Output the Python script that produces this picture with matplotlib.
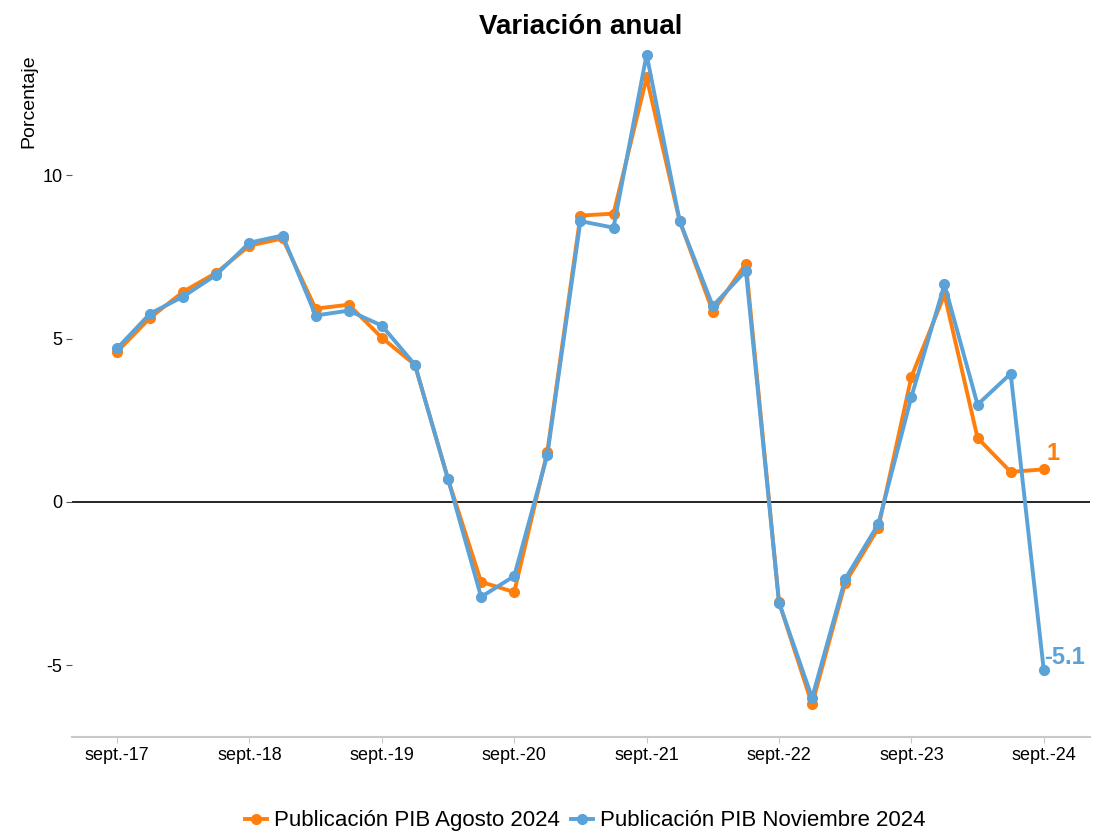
import matplotlib.pyplot as plt
import numpy as np

plt.rcParams['font.family'] = ['Liberation Sans', 'DejaVu Sans']

# trimestres sept.-17 ... sept.-24
trimestres = np.arange(29)
etiquetas = ['sept.-17', 'sept.-18', 'sept.-19', 'sept.-20',
             'sept.-21', 'sept.-22', 'sept.-23', 'sept.-24']
pos_etiquetas = np.arange(0, 29, 4)

pib_agosto = [4.6, 5.64, 6.44, 7.02, 7.85, 8.07, 5.92, 6.04, 5.03, 4.2,
              0.7, -2.45, -2.76, 1.53, 8.77, 8.83, 13.0, 8.6, 5.83, 7.3,
              -3.07, -6.2, -2.48, -0.8, 3.83, 6.35, 1.96, 0.92, 1.0]
pib_noviembre = [4.7, 5.77, 6.29, 6.96, 7.94, 8.16, 5.71, 5.86, 5.4, 4.2,
                 0.7, -2.91, -2.27, 1.44, 8.6, 8.4, 13.7, 8.6, 6.0, 7.08,
                 -3.08, -6.0, -2.36, -0.68, 3.22, 6.66, 2.98, 3.93, -5.15]

naranja = '#FF7F0E'
azul = '#5AA2D8'

fig = plt.figure(figsize=(11, 8.33), dpi=100)
ax = fig.add_axes([0.0655, 0.1152, 0.9255, 0.831])

ax.axhline(0, color='black', lw=1.2, zorder=1)
ax.plot(trimestres, pib_agosto, color=naranja, lw=2.8, marker='o', ms=7,
        label='Publicación PIB Agosto 2024', zorder=2)
ax.plot(trimestres, pib_noviembre, color=azul, lw=2.8, marker='o', ms=7,
        label='Publicación PIB Noviembre 2024', zorder=3)

# etiquetas del último dato
ax.annotate('1', (trimestres[-1], pib_agosto[-1]), xytext=(2, 3),
            textcoords='offset points', color=naranja, fontsize=17,
            fontweight='bold', ha='left', va='bottom')
ax.annotate('-5.1', (trimestres[-1], pib_noviembre[-1]), xytext=(0, 1),
            textcoords='offset points', color=azul, fontsize=17,
            fontweight='bold', ha='left', va='bottom')

ax.set_xlim(-1.36, 29.4)
ax.set_ylim(-7.2, 14.0)
ax.set_xticks(pos_etiquetas)
ax.set_xticklabels(etiquetas)
ax.set_yticks([-5, 0, 5, 10])
ax.set_yticklabels(['-5', '0', '5', '10'])

for s in ['top', 'right', 'left']:
    ax.spines[s].set_visible(False)
ax.spines['bottom'].set_color('#C8C8C8')
ax.spines['bottom'].set_linewidth(1.5)
ax.tick_params(axis='both', labelsize=13, colors='#333333',
               labelcolor='black')
ax.tick_params(axis='x', length=4, color='#C8C8C8', pad=3)
ax.tick_params(axis='y', length=4, color='#555555', pad=3)

ax.set_title('Variación anual', fontsize=20, fontweight='bold', pad=8)
fig.text(0.026, 0.935, 'Porcentaje', rotation=90, fontsize=14,
         ha='center', va='top')

fig.legend(loc='lower center', ncol=2, frameon=False, fontsize=16,
           bbox_to_anchor=(0.532, -0.022), handlelength=1.0,
           handletextpad=0.3, columnspacing=0.5)

fig.savefig('out.png', dpi=100)
